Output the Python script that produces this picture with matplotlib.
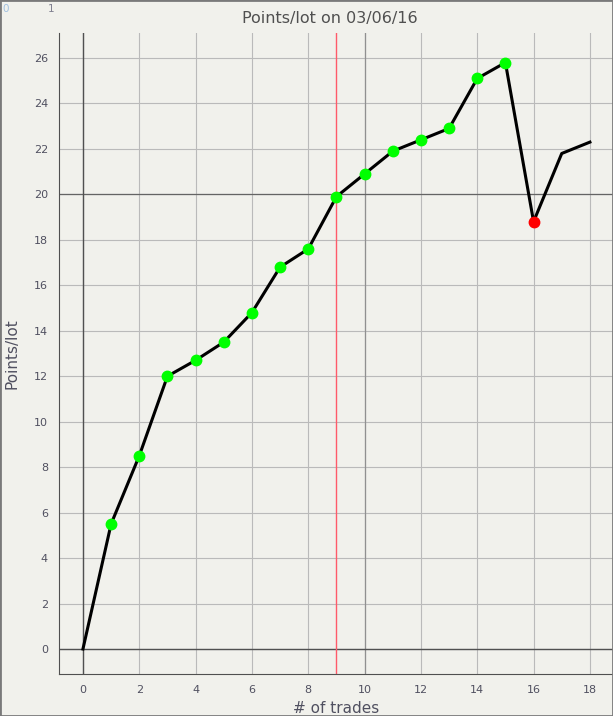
import numpy as np
import matplotlib
matplotlib.use('Agg')
import matplotlib.pyplot as plt

# данные с графика
trades = [0, 1, 2, 3, 4, 5, 6, 7, 8, 9, 10, 11, 12, 13, 14, 15, 16, 17, 18]
points = [0, 5.5, 8.5, 12.0, 12.7, 13.5, 14.8, 16.8, 17.6, 19.9, 20.9, 21.9, 22.4, 22.9, 25.1, 25.8, 18.8, 21.8, 22.3]
green_idx = [1, 2, 3, 4, 5, 6, 7, 8, 9, 10, 11, 12, 13, 14, 15]
red_idx = [16]
marker_line = 9
x_ticks = list(range(0, 19, 2))
y_ticks = list(range(0, 27, 2))

bg = '#f1f1ec'
txt = '#505060'

fig = plt.figure(figsize=(6.13, 7.16), dpi=100, facecolor=bg)
ax = fig.add_axes([59 / 613, 1 - 674 / 716, 1 - 59 / 613, (674 - 33) / 716])
ax.set_facecolor(bg)

ax.set_xlim(-0.85, 18.82)
ax.set_ylim(-1.1, 27.1)

# сетка
for x in x_ticks:
    ax.axvline(x, color='#bababa', lw=0.8, zorder=0)
for y in y_ticks:
    ax.axhline(y, color='#bababa', lw=0.8, zorder=0)
ax.axvline(10, color='#909090', lw=0.9, zorder=0)
ax.axhline(20, color='#646464', lw=0.9, zorder=0)
ax.axvline(0, color='#505050', lw=1, zorder=1)
ax.axhline(0, color='#505050', lw=1, zorder=1)
ax.axvline(marker_line, color='#ff5a6a', lw=1, zorder=1)

ax.plot(trades, points, color='black', lw=2.2, zorder=3)
ax.plot([trades[i] for i in green_idx], [points[i] for i in green_idx], 'o',
        color='#00ff00', markersize=7.5, zorder=4)
ax.plot([trades[i] for i in red_idx], [points[i] for i in red_idx], 'o',
        color='#ff0000', markersize=7.5, zorder=4)

ax.set_xticks(x_ticks)
ax.set_yticks(y_ticks)
ax.tick_params(length=0, labelsize=8, labelcolor=txt, pad=8)
for side in ['top', 'right']:
    ax.spines[side].set_visible(False)
for side in ['left', 'bottom']:
    ax.spines[side].set_color('#505050')

ax.set_xlabel('# of trades', fontsize=11, color=txt, labelpad=4)
ax.set_ylabel('Points/lot', fontsize=11, color=txt, labelpad=10)
fig.text(0.5 * (1 + 59 / 613) - 0.01, 1 - 18 / 716, 'Points/lot on 03/06/16',
         ha='center', va='center', fontsize=11.5, color='#505050')

# непонятные подписи в левом верхнем углу
fig.text(2 / 613, 1 - 9 / 716, '0', ha='left', va='center', fontsize=7.5, color='#a0c0e0')
fig.text(51 / 613, 1 - 9 / 716, '1', ha='center', va='center', fontsize=7.5, color='#808090')

# рамка вокруг рисунка
fig.add_artist(plt.Rectangle((0, 0), 1, 1, transform=fig.transFigure, fill=False,
                             edgecolor='#7a7a7a', lw=2))

fig.savefig('out.png', dpi=100, facecolor=bg)
